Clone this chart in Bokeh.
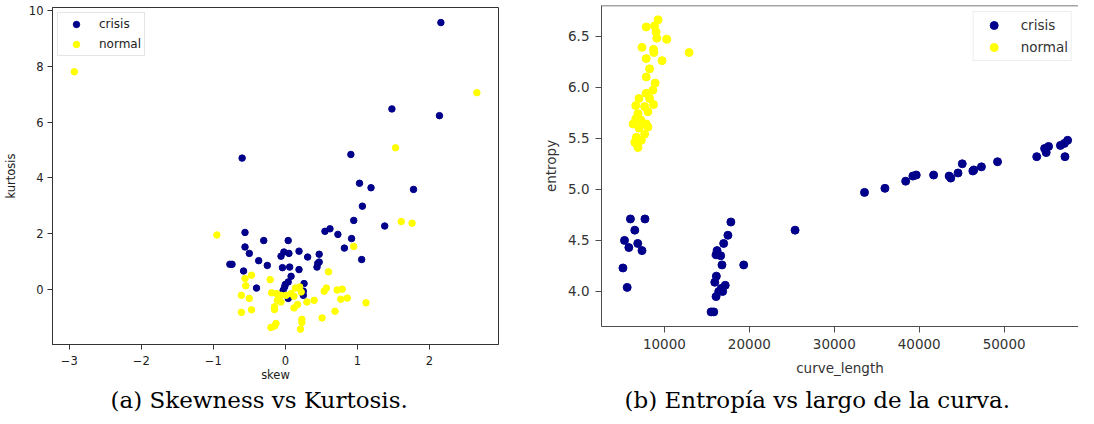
from bokeh.plotting import figure
from bokeh.layouts import row, column
from bokeh.models import Range1d, FixedTicker, Span, Title, PrintfTickFormatter
from bokeh.embed import file_html
from bokeh.resources import INLINE

# ---------------- data: (a) skew vs kurtosis ----------------
skew_crisis = [2.16, 1.48, 2.14, 0.91, 1.03, 1.19, 1.78, -0.60, -0.56, -0.30,
               -0.56, -0.50, -0.37, -0.77, -0.74, -0.58, -0.40, -0.25, 1.07, 0.95,
               1.38, 0.55, 0.62, 0.73, 0.92, 0.82, 1.06, 0.04, -0.06, -0.02,
               0.05, 0.19, 0.31, 0.47, 0.45, 0.47, 0.44, -0.04, 0.06, 0.19,
               0.08, 0.04, -0.01, -0.03, 0.26, 0.25, 0.25, 0.04, 0.00]
kurt_crisis = [9.56, 6.47, 6.23, 4.84, 3.81, 3.65, 3.59, 4.71, 2.05, 1.76,
               1.53, 1.30, 1.04, 0.91, 0.91, 0.67, 0.06, 0.87, 2.99, 2.48,
               2.28, 2.09, 2.18, 1.98, 1.83, 1.49, 1.08, 1.76, 1.20, 1.35,
               1.30, 1.38, 1.17, 1.27, 0.94, 0.99, 0.81, 0.79, 0.81, 0.72,
               0.48, 0.28, 0.10, -0.02, 0.22, -0.05, -0.20, -0.31, 0.19]
skew_normal = [-2.93, 2.66, 1.53, -0.95, -0.56, -0.47, -0.55, -0.61, -0.50, -0.47,
               -0.61, -0.21, -0.19, -0.12, -0.06, -0.11, -0.06, -0.15, -0.15, -0.13,
               -0.20, -0.15, 0.01, 0.08, 0.12, 0.14, 0.20, 0.22, 0.12, 0.17,
               0.30, 0.40, 0.23, 0.23, 0.21, 0.51, 0.54, 0.57, 0.60, 0.72,
               0.79, 0.77, 0.86, 0.69, 0.95, 1.12, 1.61, 1.76]
kurt_normal = [7.80, 7.05, 5.08, 1.96, 0.40, 0.52, 0.14, -0.20, -0.31, -0.72,
               -0.81, 0.36, -0.11, -0.14, -0.20, -0.38, -0.44, -0.61, -0.71, -1.21,
               -1.35, -1.30, -0.20, -0.14, -0.23, 0.06, 0.10, -0.08, -0.65, -0.53,
               -0.44, -0.38, -1.06, -1.17, -1.41, -1.01, -0.05, 0.06, 0.64, -0.01,
               0.02, -0.34, -0.30, -0.77, 1.55, -0.47, 2.44, 2.38]

# ---------------- data: (b) curve_length vs entropy ----------------
len_crisis = [6000, 7709, 6512, 5302, 6860, 5814, 7360, 5116, 5616,
              17826, 17477, 16977, 16198, 16081, 16628, 16779, 19337, 16116, 15930,
              17163, 16698, 16395, 16860, 16081, 15500, 15814, 25384,
              33560, 35965, 38407, 39256, 39651, 41698, 43524, 43721, 44570, 45070,
              46314, 46430, 47326, 49221, 53837, 54767, 54953, 55233, 56628, 57163,
              57093, 57477]
ent_crisis = [4.71, 4.71, 4.60, 4.50, 4.47, 4.43, 4.40, 4.23, 4.04,
              4.68, 4.55, 4.47, 4.40, 4.36, 4.35, 4.26, 4.26, 4.15, 4.09,
              4.06, 4.03, 4.00, 4.00, 3.95, 3.80, 3.80, 4.60,
              4.97, 5.01, 5.08, 5.13, 5.14, 5.14, 5.13, 5.11, 5.16, 5.25,
              5.18, 5.19, 5.22, 5.27, 5.32, 5.40, 5.36, 5.42, 5.43, 5.32,
              5.45, 5.48]
len_normal = [9256, 7860, 8837, 9023, 9105, 10267, 12907, 7360, 8721, 8756,
              7860, 9721, 8256, 7860, 8907, 8640, 7860, 7012, 8256, 8721,
              6628, 7674, 8058, 6895, 6628, 7209, 6314, 7860, 8058, 7012,
              7674, 6698, 7279, 6698, 6895, 6512]
ent_normal = [6.66, 6.59, 6.60, 6.54, 6.48, 6.47, 6.34, 6.39, 6.37, 6.34,
              6.28, 6.26, 6.18, 6.10, 6.04, 5.97, 5.94, 5.89, 5.89, 5.83,
              5.82, 5.81, 5.76, 5.74, 5.69, 5.68, 5.64, 5.64, 5.61, 5.60,
              5.54, 5.51, 5.48, 5.45, 5.41, 5.46]

# ---------------- ticks / labels ----------------
a_xticks = [-3, -2, -1, 0, 1, 2]
a_xlabels = {-3: "\u22123", -2: "\u22122", -1: "\u22121"}
a_yticks = [0, 2, 4, 6, 8, 10]
b_xticks = [10000, 20000, 30000, 40000, 50000]
b_yticks = [4.0, 4.5, 5.0, 5.5, 6.0, 6.5]
series_labels = ["crisis", "normal"]
captions = ["(a) Skewness vs Kurtosis.", "(b) Entrop\u00eda vs largo de la curva."]

NAVY = "#00008b"
YELLOW = "#ffff00"


def style_axes(p, fs, txt, line, tick_out, lab_stand):
    p.xgrid.visible = False
    p.ygrid.visible = False
    p.background_fill_color = "white"
    p.border_fill_color = "white"
    for ax in (p.xaxis[0], p.yaxis[0]):
        ax.major_label_text_font = "DejaVu Sans"
        ax.major_label_text_font_size = fs
        ax.major_label_text_color = txt
        ax.axis_label_text_font = "DejaVu Sans"
        ax.axis_label_text_font_size = fs
        ax.axis_label_text_font_style = "normal"
        ax.axis_label_text_color = txt
        ax.axis_line_color = line
        ax.major_tick_line_color = line
        ax.major_tick_out = tick_out
        ax.major_tick_in = 0
        ax.minor_tick_line_color = None
        ax.major_label_standoff = lab_stand


def add_caption(p, text, offset, spacer_standoff, cap_standoff):
    if spacer_standoff is not None:
        spacer = Title(text=" ", text_font_size="1px", standoff=spacer_standoff)
        p.add_layout(spacer, "below")
    cap = Title(text=text, align="left", offset=offset, text_font="DejaVu Serif",
                text_font_size="23px", text_font_style="normal", text_color="black",
                standoff=cap_standoff)
    p.add_layout(cap, "below")


# ---------------- (a) ----------------
p1 = figure(width=540, height=416, output_backend="svg", toolbar_location=None,
            x_range=Range1d(-3.233, 2.960), y_range=Range1d(-1.96, 10.1),
            x_axis_label="skew", y_axis_label="kurtosis",
            min_border_left=44, min_border_right=42, min_border_top=7,
            min_border_bottom=72)
p1.scatter(skew_crisis, kurt_crisis, size=6.5, fill_color=NAVY, line_color=NAVY,
           legend_label=series_labels[0])
p1.scatter(skew_normal, kurt_normal, size=6.5, fill_color=YELLOW, line_color=YELLOW,
           legend_label=series_labels[1])
style_axes(p1, "11.5px", "#222222", "#333333", 5, 4)
p1.xaxis[0].major_label_standoff = 6
p1.xaxis[0].axis_label_standoff = 0
p1.yaxis[0].axis_label_standoff = 8
p1.xaxis[0].ticker = FixedTicker(ticks=a_xticks)
p1.xaxis[0].major_label_overrides = a_xlabels
p1.yaxis[0].ticker = FixedTicker(ticks=a_yticks)
p1.outline_line_color = "#333333"
p1.outline_line_width = 1
p1.outline_line_alpha = 1

lg1 = p1.legend[0]
lg1.location = "top_left"
lg1.margin = 5
lg1.padding = 3
lg1.spacing = 4
lg1.glyph_width = 30
lg1.glyph_height = 16
lg1.label_height = 16
lg1.label_standoff = 8
lg1.label_text_font = "DejaVu Sans"
lg1.label_text_font_size = "12px"
lg1.label_text_color = "#222222"
lg1.border_line_color = "#cccccc"
lg1.border_line_width = 1
lg1.background_fill_alpha = 0.8

add_caption(p1, captions[0], 58, None, 0)

# ---------------- (b) ----------------
p2 = figure(width=538, height=416, output_backend="svg", toolbar_location=None,
            x_range=Range1d(2593, 58756), y_range=Range1d(3.657, 6.80),
            x_axis_label="curve_length", y_axis_label="entropy",
            min_border_left=55, min_border_right=0, min_border_top=5,
            min_border_bottom=90)
p2.scatter(len_crisis, ent_crisis, size=8, fill_color=NAVY, line_color=NAVY,
           legend_label=series_labels[0])
p2.scatter(len_normal, ent_normal, size=8, fill_color=YELLOW, line_color=YELLOW,
           legend_label=series_labels[1])
style_axes(p2, "13.5px", "#333333", "#4d4d4d", 6, 6)
p2.xaxis[0].axis_label_standoff = 8
p2.yaxis[0].major_label_standoff = 6
p2.yaxis[0].axis_label_standoff = 6
p2.xaxis[0].ticker = FixedTicker(ticks=b_xticks)
p2.yaxis[0].ticker = FixedTicker(ticks=b_yticks)
p2.yaxis[0].formatter = PrintfTickFormatter(format="%.1f")
p2.outline_line_color = None
p2.add_layout(Span(location=6.80, dimension="width", line_color="#4d4d4d", line_width=1.5))

lg2 = p2.legend[0]
lg2.location = "top_right"
lg2.margin = 6
lg2.padding = 3
lg2.spacing = 2
lg2.glyph_width = 34
lg2.glyph_height = 20
lg2.label_height = 20
lg2.label_standoff = 10
lg2.label_text_font = "DejaVu Sans"
lg2.label_text_font_size = "13.5px"
lg2.label_text_color = "#333333"
lg2.border_line_color = "#dddddd"
lg2.border_line_width = 1
lg2.background_fill_alpha = 0.8

add_caption(p2, captions[1], 23, 0.5, 4)

layout = row(column(p1), column(p2))
open("out.html", "w").write(file_html(layout, INLINE))
